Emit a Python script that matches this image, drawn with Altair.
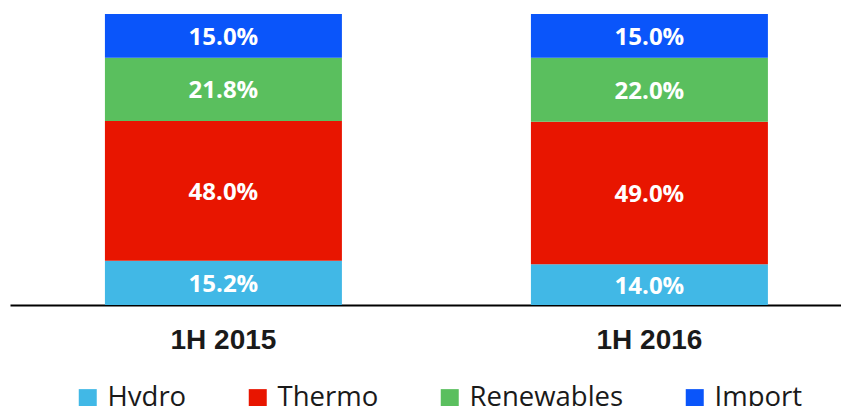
import altair as alt
import pandas as pd

periods = ["1H 2015", "1H 2016"]
sources = ["Hydro", "Thermo", "Renewables", "Import"]
values_2015 = [15.2, 48.0, 21.8, 15.0]
values_2016 = [14.0, 49.0, 22.0, 15.0]
colors = ["#41b8e6", "#e81500", "#5abf5e", "#0a55fa"]

rows = []
for p, vals in zip(periods, [values_2015, values_2016]):
    for i, (s, v) in enumerate(zip(sources, vals)):
        rows.append({"period": p, "source": s, "value": v, "order": i,
                     "label": f"{v:.1f}%"})
df = pd.DataFrame(rows)

xenc = alt.X(
    "period:N", sort=periods,
    scale=alt.Scale(paddingInner=0.4437, paddingOuter=0.1972, align=0.565),
    axis=alt.Axis(title=None, labelAngle=0, ticks=False, grid=False,
                  domainColor="#000000", domainWidth=2,
                  labelFont="Liberation Sans", labelFontWeight="bold",
                  labelFontSize=28, labelColor="#1a1a1a", labelPadding=21),
)
yscale = alt.Scale(domain=[0, 100])

base = alt.Chart(df).transform_stack(
    stack="value", groupby=["period"], as_=["v0", "v1"],
    sort=[alt.SortField("order", order="ascending")],
).transform_calculate(mid="(datum.v0 + datum.v1) / 2")

bars = base.mark_bar(strokeWidth=0).encode(
    x=xenc,
    y=alt.Y("v0:Q", scale=yscale, axis=None),
    y2="v1:Q",
    color=alt.Color(
        "source:N", sort=sources,
        scale=alt.Scale(domain=sources, range=colors),
        legend=alt.Legend(
            title=None, orient="none", legendX=64, legendY=370,
            direction="horizontal", labelFont="Open Sans", labelFontSize=27.5,
            labelColor="#1a1a1a", symbolType="square", symbolSize=324,
            symbolStrokeWidth=0, symbolOpacity=1, columnPadding=57,
            labelOffset=6, padding=0,
        ),
    ),
)

texts = base.mark_text(
    color="white", font="Open Sans", fontWeight="bold", fontSize=24,
    baseline="middle", align="center", dy=2,
).encode(
    x=xenc,
    y=alt.Y("mid:Q", scale=yscale, axis=None),
    text="label:N",
)

chart = alt.layer(bars, texts).properties(
    width=831, height=291, autosize="none",
    padding={"left": 2, "top": 6, "right": 0, "bottom": 101},
).configure_view(stroke=None)

chart.save("out.html", embed_options={"renderer": "svg", "actions": False})
